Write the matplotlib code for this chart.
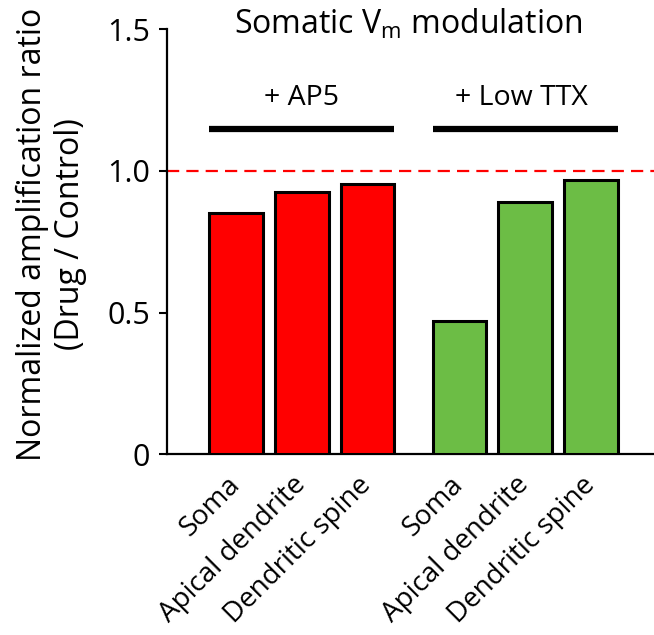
import matplotlib
matplotlib.use("Agg")
import matplotlib.pyplot as plt
import matplotlib.transforms as mtransforms
import numpy as np

plt.rcParams['font.family'] = ['Open Sans', 'DejaVu Sans']
plt.rcParams['mathtext.default'] = 'regular'

# Data
regions = ["Soma", "Apical dendrite", "Dendritic spine"]
groups = ["+ AP5", "+ Low TTX"]
ap5_ratio = [0.851, 0.926, 0.954]
low_ttx_ratio = [0.472, 0.890, 0.968]
group_colors = ["#ff0000", "#6cbd45"]
yticks = [0, 0.5, 1.0, 1.5]
ytick_labels = ["0", "0.5", "1.0", "1.5"]

fig = plt.figure(figsize=(6.54, 6.35), dpi=100)
ax = fig.add_axes([0.2549, 0.2843, 0.7451, 0.6697])

bar_w = 0.814
group_gap = 1.4
series = [ap5_ratio, low_ttx_ratio]
all_pos, all_labels = [], []
for g, (vals, col) in enumerate(zip(series, group_colors)):
    pos = np.arange(len(vals)) + g * (len(vals) - 1 + group_gap)
    ax.bar(pos, vals, width=bar_w, color=col, edgecolor="black",
           linewidth=2.2, zorder=3)
    all_pos.extend(pos)
    all_labels.extend(regions)
    # group bracket and label
    x0, x1 = pos[0] - bar_w / 2, pos[-1] + bar_w / 2
    ax.plot([x0, x1], [1.147, 1.147], color="black", lw=4.5,
            solid_capstyle="butt", clip_on=False)
    ax.text((x0 + x1) / 2 - 0.05 * g, 1.257, groups[g], ha="center",
            va="center", fontsize=20.5)

ax.axhline(1.0, color="#ff0000", lw=1.6, dashes=(5.5, 3.2), zorder=2)

ax.set_xlim(-1.055, 6.36)
ax.set_ylim(0, 1.5)
ax.set_yticks(yticks)
ax.set_yticklabels(ytick_labels, fontsize=22)
ax.set_xticks(all_pos)
ax.set_xticklabels(all_labels, rotation=45, ha="right", va="top",
                   rotation_mode="anchor", fontsize=20)
ax.tick_params(axis="x", length=0, pad=12)
ax.tick_params(axis="y", length=6, width=1.5, pad=6)
shift = mtransforms.ScaledTranslation(-0.10, 0.0, fig.dpi_scale_trans)
for lbl in ax.get_xticklabels():
    lbl.set_transform(lbl.get_transform() + shift)

for s in ["top", "right"]:
    ax.spines[s].set_visible(False)
for s in ["left", "bottom"]:
    ax.spines[s].set_linewidth(1.6)

fig.text(51 / 654, 1 - 234 / 635,
         "Normalized amplification ratio\n(Drug / Control)",
         rotation=90, ha="center", va="center", fontsize=23,
         linespacing=1.2, multialignment="center")

fig.text(0.624, 0.961, "Somatic V$_{m}$ modulation", ha="center",
         va="center", fontsize=23)

fig.savefig("out.png", dpi=100)
